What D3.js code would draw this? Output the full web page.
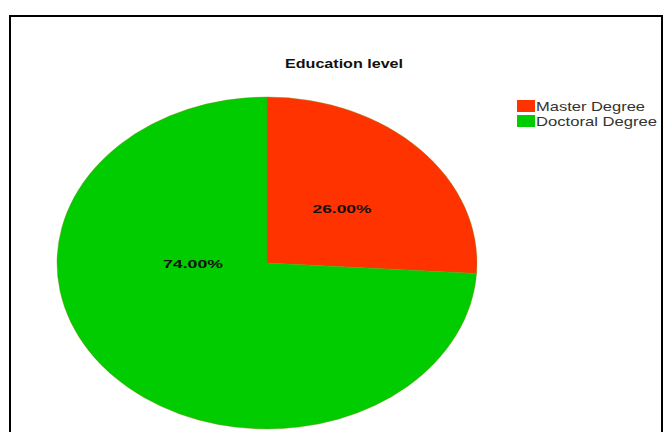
<!DOCTYPE html>
<html>
<head>
<meta charset="utf-8">
<script src="https://cdn.jsdelivr.net/npm/d3@7"></script>
<style>
  body { margin: 0; background: #fff; }
  svg { display: block; font-family: "Liberation Sans", Arial, sans-serif; }
</style>
</head>
<body>
<svg width="664" height="432"></svg>
<script>
const categories = ["Master Degree", "Doctoral Degree"];
const values = [26, 74];
const colors = ["#ff3300", "#00cc00"];
const title = "Education level";

const svg = d3.select("svg");

// frame
svg.append("rect")
    .attr("x", 10).attr("y", 16)
    .attr("width", 652).attr("height", 430)
    .attr("fill", "none")
    .attr("stroke", "#000")
    .attr("stroke-width", 2);

// pie is a stretched circle
const cx = 267, cy = 263, rx = 210, ry = 166;

const data = categories.map((c, i) => ({name: c, value: values[i]}));

const pie = d3.pie().sort(null).value(d => d.value);
const arc = d3.arc().innerRadius(0).outerRadius(1);
const arcs = pie(data);

const g = svg.append("g")
    .attr("transform", `translate(${cx},${cy}) scale(${rx},${ry})`);

g.selectAll("path")
    .data(arcs)
    .enter().append("path")
    .attr("d", arc)
    .attr("fill", (d, i) => colors[i])
    .attr("stroke", "#7a8a10")
    .attr("stroke-opacity", 0.5)
    .attr("stroke-width", 0.8)
    .attr("vector-effect", "non-scaling-stroke");

// percent labels
const labelPos = [[342, 213], [193, 268]];
const labelWidth = [59, 60];
svg.selectAll(".pct")
    .data(arcs)
    .enter().append("text")
    .attr("class", "pct")
    .attr("x", (d, i) => labelPos[i][0])
    .attr("y", (d, i) => labelPos[i][1])
    .attr("text-anchor", "middle")
    .attr("font-size", 11)
    .attr("font-weight", "bold")
    .attr("fill", "#111")
    .attr("textLength", (d, i) => labelWidth[i])
    .attr("lengthAdjust", "spacingAndGlyphs")
    .text(d => (d.data.value).toFixed(2) + "%");

// title
svg.append("text")
    .attr("x", 344).attr("y", 68)
    .attr("text-anchor", "middle")
    .attr("font-size", 12)
    .attr("font-weight", "bold")
    .attr("fill", "#111")
    .attr("textLength", 118)
    .attr("lengthAdjust", "spacingAndGlyphs")
    .text(title);

// legend
const legend = svg.append("g").attr("transform", "translate(517,100)");
const legendTextWidth = [109, 121];
const row = legend.selectAll("g")
    .data(categories)
    .enter().append("g")
    .attr("transform", (d, i) => `translate(0,${i * 15})`);

row.append("rect")
    .attr("width", 18).attr("height", 12)
    .attr("fill", (d, i) => colors[i]);

row.append("text")
    .attr("x", 19).attr("y", 11)
    .attr("font-size", 13)
    .attr("fill", "#333")
    .attr("textLength", (d, i) => legendTextWidth[i])
    .attr("lengthAdjust", "spacingAndGlyphs")
    .text(d => d);
</script>
</body>
</html>
